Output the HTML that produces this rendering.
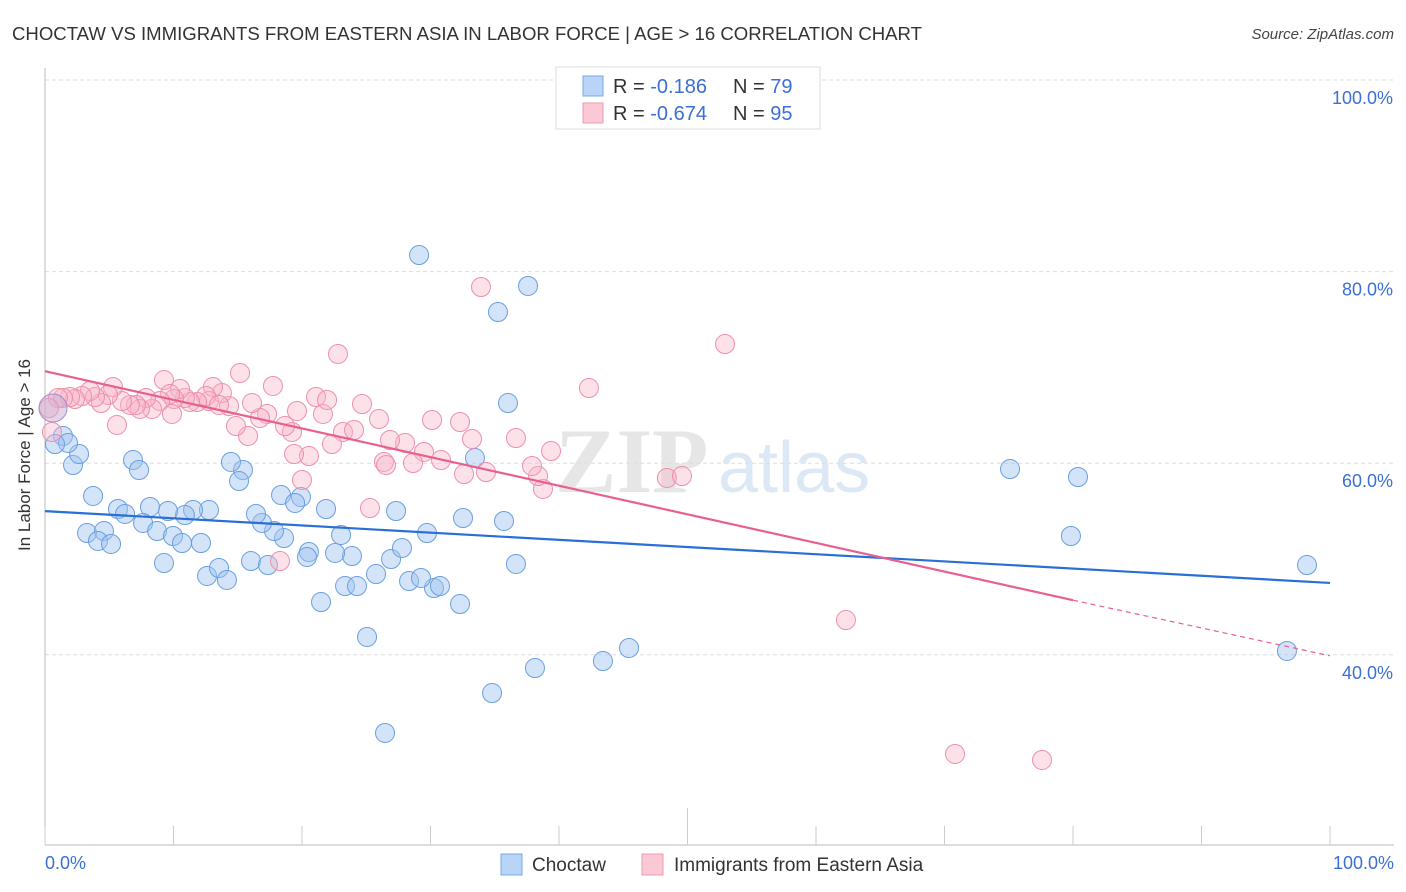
<!DOCTYPE html>
<html><head><meta charset="utf-8">
<style>
body{margin:0;background:#fff;font-family:"Liberation Sans",sans-serif;}
#wrap{position:relative;width:1406px;height:892px;overflow:hidden;}
</style></head>
<body>
<div id="wrap">
<svg id="chart" width="1406" height="892" xmlns="http://www.w3.org/2000/svg">
<text x="12" y="40" font-size="18" fill="#333" textLength="910" lengthAdjust="spacingAndGlyphs">CHOCTAW VS IMMIGRANTS FROM EASTERN ASIA IN LABOR FORCE | AGE &gt; 16 CORRELATION CHART</text>
<text x="1394" y="39" font-size="15" fill="#444" font-style="italic" text-anchor="end">Source: ZipAtlas.com</text>
<g>
<text x="555" y="492" font-size="92" fill="#e6e6e6" font-family="Liberation Serif" font-weight="bold">ZIP</text>
<text x="718" y="492" font-size="72" fill="#dce8f6">atlas</text>
</g>
<g id="grid"></g>
<g id="axes"></g>
<g id="pts"></g>
<g id="trend"></g>
<text x="30" y="455" font-size="17" fill="#333" transform="rotate(-90 30 455)" text-anchor="middle">In Labor Force | Age &gt; 16</text>
<text x="45" y="869" font-size="18" fill="#3b6fd6">0.0%</text>
<text x="1394" y="869" font-size="18" fill="#3b6fd6" text-anchor="end">100.0%</text>
<g>
<rect x="556" y="67" width="264" height="62" fill="#fff" stroke="#ddd"/>
<rect x="583" y="76" width="20" height="20" fill="#b8d4f6" stroke="#7aa7e6"/>
<rect x="583" y="103" width="20" height="20" fill="#fbc8d6" stroke="#ee9ab2"/>
<text x="613" y="93" font-size="20" fill="#333">R = <tspan fill="#3b6fd6">-0.186</tspan><tspan x="733">N = </tspan><tspan fill="#3b6fd6">79</tspan></text>
<text x="613" y="120" font-size="20" fill="#333">R = <tspan fill="#3b6fd6">-0.674</tspan><tspan x="733">N = </tspan><tspan fill="#3b6fd6">95</tspan></text>
</g>
<g>
<rect x="501" y="854" width="21" height="21" fill="#b8d4f6" stroke="#7aa7e6"/>
<text x="532" y="871" font-size="19" fill="#333">Choctaw</text>
<rect x="642" y="854" width="21" height="21" fill="#fbc8d6" stroke="#ee9ab2"/>
<text x="674" y="871" font-size="19" fill="#333">Immigrants from Eastern Asia</text>
</g>
</svg>
</div>
<script>
const yTicks=[100,80,60,40];
const yTickLabels=["100.0%","80.0%","60.0%","40.0%"];
const xTicks=[0,10,20,30,40,50,60,70,80,90,100];
const blueXpx=[419,528,498,508,475,1010,1078,1071,1307,1287,629,603,535,492,385,367,321,460,434,440,409,421,376,345,357,391,402,352,335,309,307,284,274,262,256,281,301,295,326,341,396,427,463,504,516,243,231,239,209,193,185,168,150,118,125,143,157,173,182,201,87,104,98,111,164,207,219,227,251,268,93,73,79,63,68,55,133,139];
const blueYpx=[255,286,312,403,458,469,477,536,565,651,648,661,668,693,733,637,602,604,588,586,581,578,574,586,586,559,548,556,553,552,557,538,531,523,514,495,497,503,509,535,511,533,518,521,564,470,462,481,510,510,515,511,507,509,514,523,531,536,543,543,533,531,541,544,563,576,568,580,561,565,496,465,454,436,443,444,460,470];
const pinkXpx=[481,725,338,589,846,955,1042,667,682,543,538,532,516,551,460,472,464,486,432,441,424,413,405,390,384,386,379,362,343,354,332,323,316,327,297,292,285,302,309,294,280,370,273,267,260,252,240,248,236,229,222,213,209,206,197,190,185,180,174,164,170,160,172,152,146,140,136,130,122,113,108,101,95,90,82,75,70,63,58,49,52,117,219];
const pinkYpx=[287,344,354,388,620,754,760,478,476,489,476,466,438,451,422,439,474,472,420,460,452,463,443,440,462,465,419,404,432,430,444,414,397,400,411,432,426,480,456,454,561,508,386,414,418,403,373,436,426,406,393,387,401,396,402,402,398,389,399,380,394,401,414,409,398,409,405,405,401,387,395,403,397,391,396,399,397,398,398,408,432,425,405];
// convert pixel readings to data values (%)
const blueX=blueXpx.map(p=>+((p-45)/12.85).toFixed(2));
const blueY=blueYpx.map(p=>+(100-(p-80)/9.58).toFixed(2));
const pinkX=pinkXpx.map(p=>+((p-45)/12.85).toFixed(2));
const pinkY=pinkYpx.map(p=>+(100-(p-80)/9.58).toFixed(2));
const blueTrend=[[0,55.0],[100,47.5]];
const pinkTrend=[[0,69.6],[80,45.7],[100,39.9]];

const sx=v=>45+v*12.85;
const sy=v=>80+(100-v)*9.58;
const NS="http://www.w3.org/2000/svg";
function mk(tag,attrs,parent){const e=document.createElementNS(NS,tag);for(const k in attrs)e.setAttribute(k,attrs[k]);parent.appendChild(e);return e;}
const grid=document.getElementById('grid'),axes=document.getElementById('axes'),pts=document.getElementById('pts'),trend=document.getElementById('trend');
yTicks.forEach((t,i)=>{
  const l=mk('line',{x1:45,x2:1394,y1:sy(t),y2:sy(t),stroke:'#ddd','stroke-dasharray':'4 3'},grid);
  
  
  const tx=mk('text',{x:1393,y:sy(t)+24,'font-size':18,fill:'#3b6fd6','text-anchor':'end'},grid);
  tx.textContent=yTickLabels[i];
  
  
});
const ya=mk('line',{x1:45,x2:45,y1:68,y2:845,stroke:'#bbb'},axes);


const xa=mk('line',{x1:45,x2:1394,y1:845,y2:845,stroke:'#bbb'},axes);


xTicks.forEach(t=>{
  const l=mk('line',{x1:sx(t),x2:sx(t),y1:t==50?808:826,y2:845,stroke:'#ccc'},axes);
  
  
});
blueX.forEach((x,i)=>{
  const c=mk('circle',{cx:sx(x),cy:sy(blueY[i]),r:9.5,fill:'rgba(160,196,240,0.45)',stroke:'#6a9fe0','stroke-width':1},pts);
  
  
});
pinkX.forEach((x,i)=>{
  const c=mk('circle',{cx:sx(x),cy:sy(pinkY[i]),r:9.5,fill:'rgba(248,180,200,0.4)',stroke:'#ee8fab','stroke-width':1},pts);
  
  
});
const big=mk('circle',{cx:53,cy:408,r:14,fill:'rgba(200,170,210,0.5)',stroke:'#a58fcf'},pts);


const bt=mk('line',{x1:sx(blueTrend[0][0]),y1:sy(blueTrend[0][1]),x2:sx(blueTrend[1][0]),y2:sy(blueTrend[1][1]),stroke:'#2a6fd6','stroke-width':2.2},trend);


const pt=mk('line',{x1:sx(pinkTrend[0][0]),y1:sy(pinkTrend[0][1]),x2:sx(pinkTrend[1][0]),y2:sy(pinkTrend[1][1]),stroke:'#e8608f','stroke-width':2.2},trend);


const pd=mk('line',{x1:sx(pinkTrend[1][0]),y1:sy(pinkTrend[1][1]),x2:sx(pinkTrend[2][0]),y2:sy(pinkTrend[2][1]),stroke:'#e8608f','stroke-width':1.2,'stroke-dasharray':'5 4'},trend);


</script>
</body></html>
